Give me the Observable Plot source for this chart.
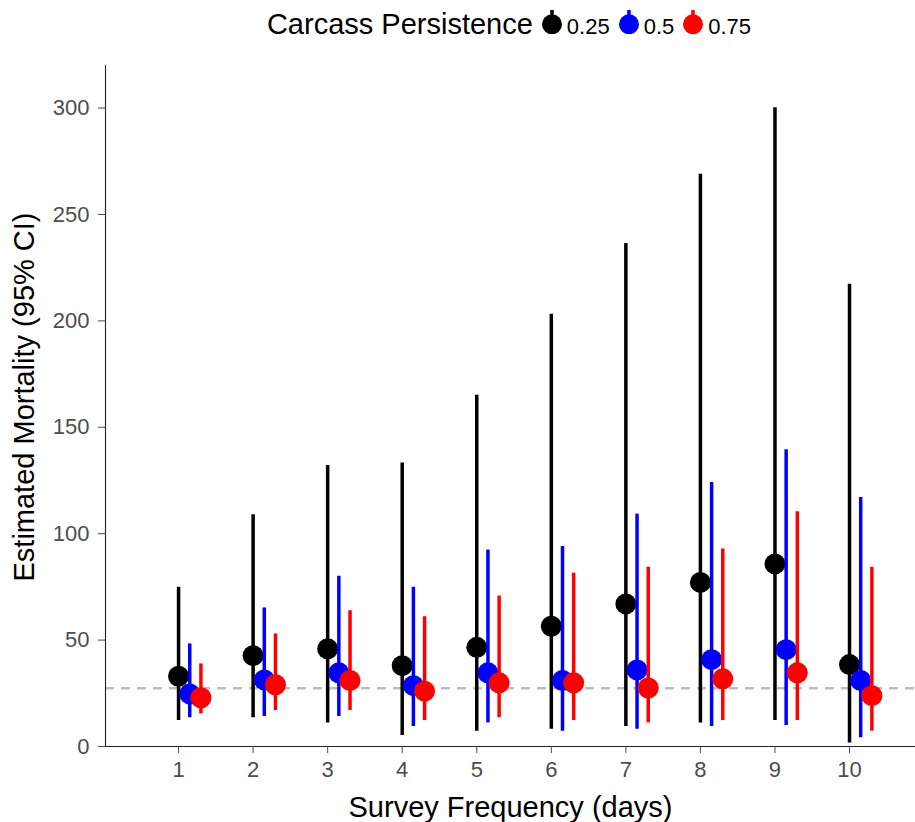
<!DOCTYPE html>
<html>
<head>
<meta charset="utf-8">
<script src="https://cdn.jsdelivr.net/npm/d3@7"></script>
<script src="https://cdn.jsdelivr.net/npm/@observablehq/plot@0.6"></script>
<style>
  body { margin: 0; background: #fff; font-family: "Liberation Sans", Arial, sans-serif; }
  #legend { position: relative; width: 915px; height: 50px; }
  #legend .row { position: absolute; left: 105px; width: 810px; top: 0; padding-top: 8px;
    display: flex; justify-content: center; align-items: baseline; line-height: 1; }
  #legend .title { font-size: 29px; color: #000; margin-right: 8px; }
  #legend .lab { font-size: 22px; color: #000; margin-left: 4px; margin-right: 2px; }
  #legend svg { display: inline-block; }
</style>
</head>
<body>
<div id="legend"></div>
<div id="chart"></div>
<script>
// ---- data ----
const freq = [1, 2, 3, 4, 5, 6, 7, 8, 9, 10];
const persistence = ["0.25", "0.5", "0.75"];
const est_025 = [33, 42.7, 45.9, 38, 46.6, 56.5, 67, 77.1, 85.8, 38.5];
const lo_025  = [12.2, 13.5, 11.1, 5.2, 7.2, 8.1, 9.4, 11.1, 12.2, 1.6];
const hi_025  = [74.8, 108.9, 132, 133.2, 165.1, 203.1, 236.3, 268.9, 300.1, 217.2];
const est_05  = [24.7, 31.3, 34.6, 28.6, 34.6, 31, 36, 40.8, 45.5, 31];
const lo_05   = [13.5, 14.1, 14.1, 9.4, 11.1, 7.2, 8.1, 9.4, 9.9, 4.1];
const hi_05   = [48.2, 65.1, 80, 74.8, 92.3, 94, 109.2, 124.1, 139.4, 117];
const est_075 = [22.9, 29, 31, 26, 29.9, 29.9, 27.5, 31.8, 34.6, 23.9];
const lo_075  = [15.3, 16.9, 16.9, 12.2, 13.5, 12.2, 11.1, 12.2, 12.2, 7.2];
const hi_075  = [38.8, 52.9, 63.8, 61, 70.7, 81.4, 84.2, 92.8, 110.3, 84.2];
const trueMortality = 27.4;
const yTicks = [0, 50, 100, 150, 200, 250, 300];
const xTitle = "Survey Frequency (days)";
const yTitle = "Estimated Mortality (95% CI)";
const legendTitle = "Carcass Persistence";

// ---- styling ----
const colors = ["#000000", "#0000FF", "#FF0000"];
const dodge = 0.15;
const xDomain = [0.02, 10.885];
const yDomain = [0, 320];

const estimates = [est_025, est_05, est_075];
const lows = [lo_025, lo_05, lo_075];
const highs = [hi_025, hi_05, hi_075];

const rows = [];
persistence.forEach((p, s) => {
  freq.forEach((f, i) => {
    rows.push({ freq: f, series: p, si: s, est: estimates[s][i], lo: lows[s][i], hi: highs[s][i] });
  });
});
const xpos = d => d.freq + d.si * dodge;

const marks = [
  Plot.ruleY([trueMortality], { stroke: "#BEBEBE", strokeWidth: 2.5, strokeDasharray: "9,7" })
];
persistence.forEach((p, s) => {
  const data = rows.filter(d => d.si === s);
  marks.push(Plot.ruleX(data, { x: xpos, y1: "lo", y2: "hi", stroke: colors[s], strokeWidth: 3.5 }));
  marks.push(Plot.dot(data, { x: xpos, y: "est", r: 10.5, fill: colors[s], stroke: null }));
});
marks.push(
  Plot.ruleY([yDomain[0]], { stroke: "#222", strokeWidth: 1.1 }),
  Plot.ruleX([xDomain[0]], { stroke: "#222", strokeWidth: 1.1 }),
  Plot.axisY({ ticks: yTicks, tickSize: 7, tickPadding: 9, fontSize: 22, color: "#4D4D4D", label: null }),
  Plot.axisX({ ticks: freq, tickSize: 7, tickPadding: 8, fontSize: 22, color: "#4D4D4D", label: null, tickFormat: d => String(d) }),
  Plot.text([xTitle], { text: d => d, frameAnchor: "bottom", dy: 70, lineAnchor: "bottom", textAnchor: "middle", fontSize: 29, fill: "#000" }),
  Plot.text([yTitle], { text: d => d, frameAnchor: "left", dx: -72, dy: -9, rotate: -90, lineAnchor: "bottom", textAnchor: "middle", fontSize: 29, fill: "#000" })
);

const chart = Plot.plot({
  width: 915,
  height: 772,
  marginLeft: 105,
  marginRight: 0,
  marginTop: 15,
  marginBottom: 76,
  x: { domain: xDomain },
  y: { domain: yDomain },
  style: { fontFamily: "'Liberation Sans', Arial, sans-serif", background: "#fff", overflow: "visible" },
  marks
});
document.getElementById("chart").appendChild(chart);

// ---- legend (HTML above the plot) ----
const row = d3.select("#legend").append("div").attr("class", "row");
row.append("span").attr("class", "title").text(legendTitle);
persistence.forEach((p, s) => {
  const sw = row.append("svg").attr("width", 22).attr("height", 26).style("margin-left", s === 0 ? "0px" : "6px");
  sw.append("line").attr("x1", 11).attr("x2", 11).attr("y1", 2).attr("y2", 24)
    .attr("stroke", colors[s]).attr("stroke-width", 3.5);
  sw.append("circle").attr("cx", 11).attr("cy", 16.3).attr("r", 10).attr("fill", colors[s]);
  row.append("span").attr("class", "lab").text(p);
});
</script>
</body>
</html>
